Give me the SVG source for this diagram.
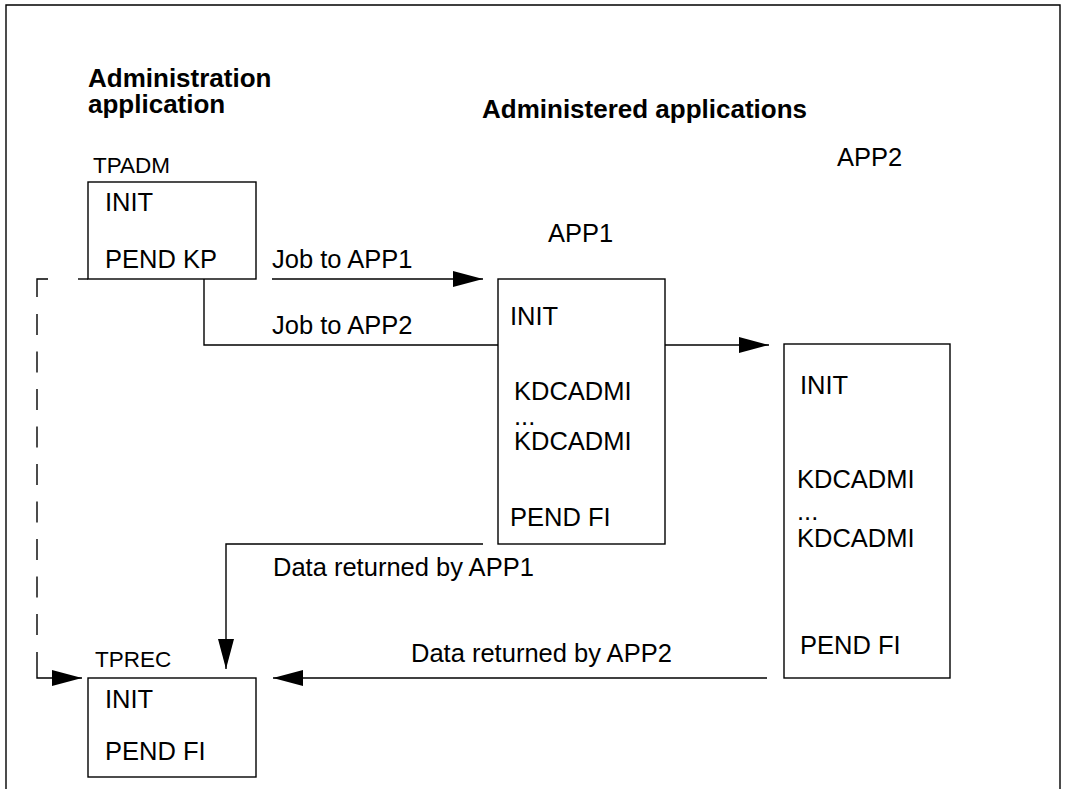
<svg xmlns="http://www.w3.org/2000/svg" width="1065" height="789" viewBox="0 0 1065 789">
<style>
  text { font-family: "Liberation Sans", Arial, Helvetica, sans-serif; fill: #000; }
  .t { font-size: 25.5px; }
  .s { font-size: 22.5px; }
  .b { font-size: 26px; font-weight: bold; }
  .box { fill: #fff; stroke: #000; stroke-width: 1.4; }
  .ln { fill: none; stroke: #000; stroke-width: 1.4; }
  .dash { fill: none; stroke: #000; stroke-width: 1.4; stroke-dasharray: 21 16.5; }
</style>
<defs>
  <marker id="arr" viewBox="0 0 30 16" markerWidth="30" markerHeight="16" refX="30" refY="8" orient="auto" markerUnits="userSpaceOnUse">
    <path d="M0,0 L30,8 L0,16 Z" fill="#000"/>
  </marker>
</defs>
<rect width="1065" height="789" fill="#fff"/>
<path class="ln" d="M6,789 V5 H1060 V789"/>

<g id="titles">
  <text class="b" x="88" y="87">Administration</text>
  <text class="b" x="88" y="113">application</text>
  <text class="b" x="482" y="118">Administered applications</text>
</g>

<g id="connectors">
  <path class="ln" d="M272,279 H483" marker-end="url(#arr)"/>
  <path class="ln" d="M204,279 V345 H498"/>
  <path class="ln" d="M665,345 H769" marker-end="url(#arr)"/>
  <path class="ln" d="M483,544 H226 V669" marker-end="url(#arr)"/>
  <path class="ln" d="M767,678 H273" marker-end="url(#arr)"/>
  <path class="ln" d="M78,279 H88"/>
  <path class="ln" d="M48,279 H37 V297"/>
  <path class="dash" d="M37,314 V635"/>
  <path class="ln" d="M37,652 V678 H82" marker-end="url(#arr)"/>
  <text class="t" x="272" y="268">Job to APP1</text>
  <text class="t" x="272" y="334">Job to APP2</text>
  <text class="t" x="273" y="576">Data returned by APP1</text>
  <text class="t" x="411" y="662">Data returned by APP2</text>
</g>

<g id="tpadm">
  <text class="s" x="93" y="173">TPADM</text>
  <rect class="box" x="88" y="182" width="168" height="97"/>
  <text class="t" x="105" y="211">INIT</text>
  <text class="t" x="105" y="268">PEND KP</text>
</g>

<g id="app1">
  <text class="t" x="548" y="242">APP1</text>
  <rect class="box" x="498" y="279" width="167" height="265"/>
  <text class="t" x="510" y="325">INIT</text>
  <text class="t" x="514" y="400">KDCADMI</text>
  <text class="t" x="514" y="425">...</text>
  <text class="t" x="514" y="450">KDCADMI</text>
  <text class="t" x="510" y="526">PEND FI</text>
</g>

<g id="app2">
  <text class="t" x="837" y="166">APP2</text>
  <rect class="box" x="784" y="344" width="166" height="334"/>
  <text class="t" x="800" y="394">INIT</text>
  <text class="t" x="797" y="488">KDCADMI</text>
  <text class="t" x="797" y="520">...</text>
  <text class="t" x="797" y="547">KDCADMI</text>
  <text class="t" x="800" y="654">PEND FI</text>
</g>

<g id="tprec">
  <text class="s" x="95" y="667">TPREC</text>
  <rect class="box" x="88" y="678" width="168" height="99"/>
  <text class="t" x="105" y="708">INIT</text>
  <text class="t" x="105" y="760">PEND FI</text>
</g>
</svg>
